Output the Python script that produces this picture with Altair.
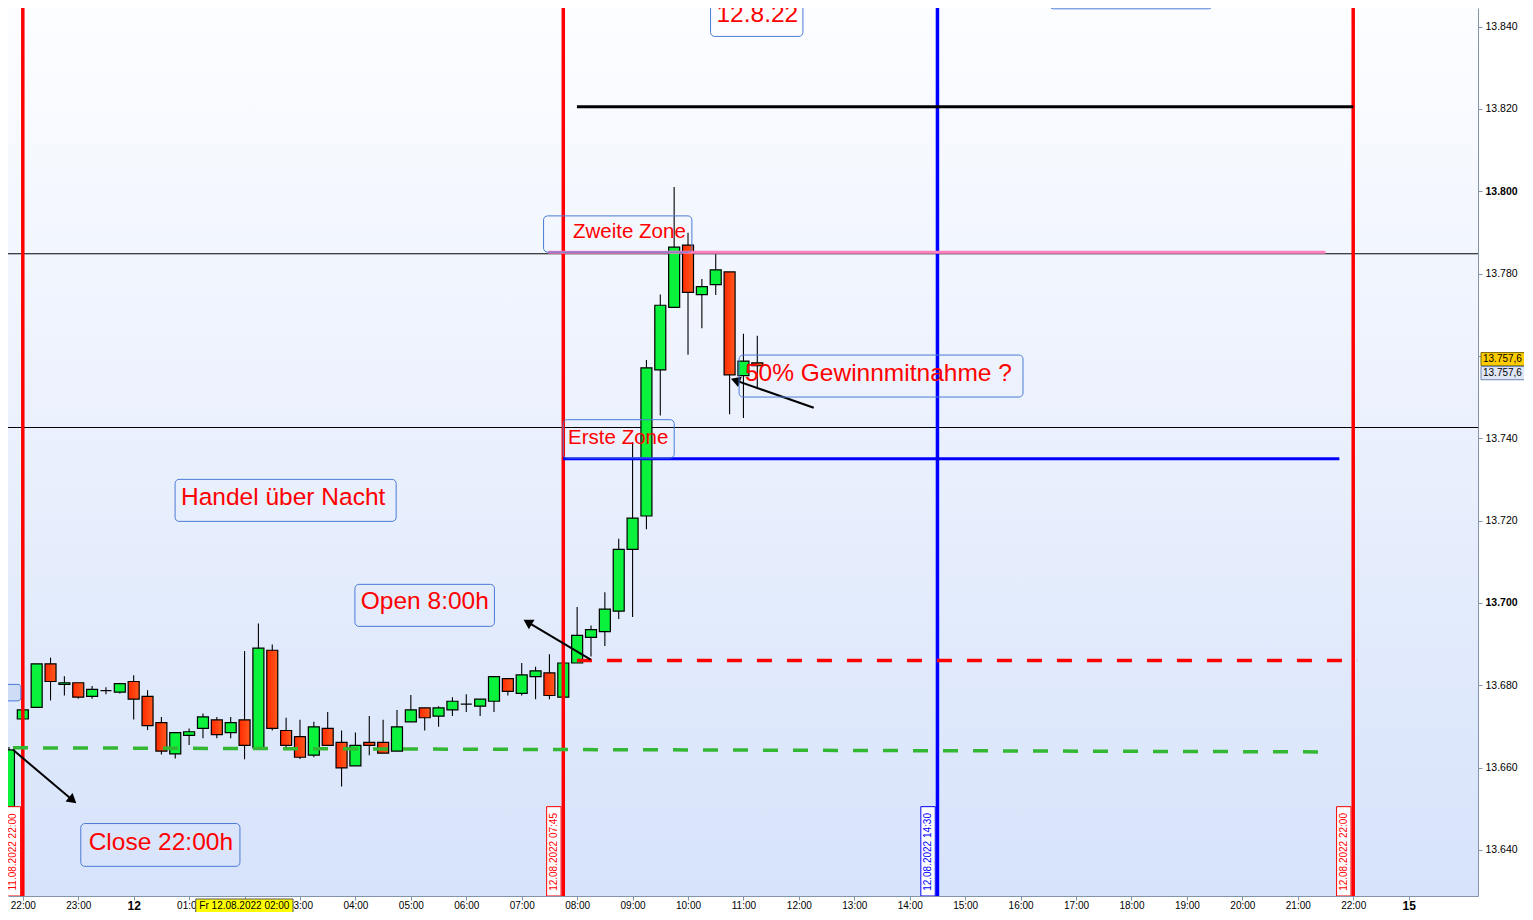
import math
import json
import altair as alt
import pandas as pd

# ---------------- data ----------------
bar_times = ["21:45", "22:00", "22:15", "22:30", "22:45", "23:00", "23:15", "23:30", "23:45",
             "00:00", "00:15", "00:30", "00:45", "01:00", "01:15", "01:30", "01:45",
             "02:00", "02:15", "02:30", "02:45", "03:00", "03:15", "03:30", "03:45",
             "04:00", "04:15", "04:30", "04:45", "05:00", "05:15", "05:30", "05:45",
             "06:00", "06:15", "06:30", "06:45", "07:00", "07:15", "07:30", "07:45",
             "08:00", "08:15", "08:30", "08:45", "09:00", "09:15", "09:30", "09:45",
             "10:00", "10:15", "10:30", "10:45", "11:00", "11:15"]
opens = [13650.5, 13671.8, 13674.6, 13685.2, 13680.2, 13680.6, 13677.3, 13678.7, 13678.3,
         13680.9, 13677.3, 13670.9, 13663.3, 13667.8, 13669.5, 13671.6, 13668.5,
         13671.6, 13664.8, 13688.5, 13669.0, 13667.5, 13663.0, 13669.5, 13666.1,
         13660.4, 13666.1, 13666.1, 13664.0, 13671.1, 13674.5, 13672.5, 13674.0,
         13675.4, 13674.9, 13676.1, 13681.6, 13678.0, 13682.1, 13683.0, 13677.1,
         13685.4, 13691.6, 13693.0, 13698.0, 13713.0, 13721.1, 13756.6, 13771.8,
         13786.9, 13774.9, 13777.3, 13780.4, 13755.2, 13758.3]
highs = [13665.0, 13674.0, 13685.2, 13686.7, 13682.2, 13680.6, 13679.8, 13679.5, 13680.4,
         13682.4, 13678.8, 13672.3, 13668.5, 13669.5, 13673.1, 13672.3, 13672.3,
         13688.3, 13695.0, 13689.9, 13672.1, 13671.6, 13671.1, 13673.5, 13669.0,
         13668.5, 13672.5, 13671.6, 13674.0, 13677.6, 13674.5, 13674.9, 13677.1,
         13677.8, 13676.6, 13682.1, 13681.6, 13685.4, 13684.5, 13687.5, 13687.0,
         13699.0, 13694.5, 13702.6, 13715.6, 13739.0, 13759.0, 13774.9, 13801.0,
         13789.9, 13778.7, 13784.7, 13780.4, 13765.4, 13764.9]
lows = [13645.0, 13671.8, 13674.6, 13676.3, 13677.5, 13676.7, 13676.7, 13677.8, 13678.0,
        13671.7, 13669.1, 13663.2, 13662.2, 13665.5, 13667.1, 13667.1, 13667.1,
        13662.0, 13664.8, 13669.0, 13664.4, 13662.1, 13662.5, 13665.4, 13655.4,
        13660.4, 13663.0, 13663.5, 13664.0, 13671.1, 13669.0, 13669.9, 13672.5,
        13673.5, 13672.5, 13673.5, 13677.5, 13677.5, 13676.6, 13676.6, 13676.6,
        13685.4, 13687.0, 13689.5, 13696.1, 13696.6, 13717.9, 13745.5, 13771.8,
        13760.3, 13766.7, 13774.8, 13745.8, 13744.9, 13752.4]
closes = [13664.3, 13674.0, 13685.2, 13680.9, 13680.6, 13677.1, 13679.0, 13678.7, 13680.4,
          13676.6, 13670.2, 13664.0, 13668.5, 13668.7, 13672.3, 13668.0, 13670.9,
          13665.4, 13689.0, 13669.5, 13665.4, 13662.5, 13669.9, 13665.4, 13659.9,
          13665.4, 13665.4, 13663.5, 13669.9, 13674.0, 13672.1, 13674.5, 13676.1,
          13675.4, 13676.6, 13682.1, 13678.5, 13682.5, 13683.5, 13677.5, 13685.4,
          13692.1, 13693.5, 13698.5, 13713.0, 13720.6, 13757.1, 13772.3, 13786.4,
          13775.4, 13776.8, 13780.9, 13755.4, 13758.7, 13757.6]

x_tick_labels = ["22:00", "23:00", "12", "01:00", "02:00", "03:00", "04:00", "05:00", "06:00",
                 "07:00", "08:00", "09:00", "10:00", "11:00", "12:00", "13:00", "14:00",
                 "15:00", "16:00", "17:00", "18:00", "19:00", "20:00", "21:00", "22:00", "15"]
y_ticks = [13640, 13660, 13680, 13700, 13720, 13740, 13760, 13780, 13800, 13820, 13840]
# the 13.760 label is hidden behind the last-price tags in the reference
y_tick_labels = ["13.640", "13.660", "13.680", "13.700", "13.720", "13.740", "",
                 "13.780", "13.800", "13.820", "13.840"]

vline_stamps = ["11.08.2022 22:00", "12.08.2022 07:45", "12.08.2022 14:30", "12.08.2022 22:00"]
vline_colors = ["#ff0000", "#ff0000", "#0000ff", "#ff0000"]

thin_levels = [13784.8, 13742.6]
last_price = 13757.6
last_price_label = "13.757,6"

# ---------------- layout ----------------
W, H = 1470, 888
X_DOMAIN = [-0.177, 26.161]
Y_DOMAIN = [13628.8, 13844.5]
PX_H = W / (X_DOMAIN[1] - X_DOMAIN[0])
PX_P = H / (Y_DOMAIN[1] - Y_DOMAIN[0])
FONT = "Liberation Sans"
BOX_BLUE = "#4a7bd6"


def hours_of(day, hhmm):
    hh, mm = (int(p) for p in hhmm.split(":"))
    return ((day - 11) * 1440 + hh * 60 + mm - 22 * 60) / 60.0


bar_hours = [hours_of(11 if int(t[:2]) >= 21 else 12, t) for t in bar_times]
bars = pd.DataFrame({"h": bar_hours, "open": opens, "high": highs, "low": lows, "close": closes})
bars["dir"] = ["up" if c > o else ("down" if c < o else "flat") for o, c in zip(opens, closes)]

vl_h = [hours_of(int(s[:2]), s[-5:]) for s in vline_stamps]
vlines = pd.DataFrame({"h": vl_h, "c": vline_colors, "label": vline_stamps,
                       "bx1": [h - 0.30 for h in vl_h], "bx2": [h - 0.04 for h in vl_h],
                       "tx": [h - 0.17 for h in vl_h],
                       "by1": [13650.5] * 4, "by2": [Y_DOMAIN[0]] * 4, "ty": [13639.5] * 4})

xs = alt.Scale(domain=X_DOMAIN, nice=False, zero=False)
ys = alt.Scale(domain=Y_DOMAIN, nice=False, zero=False)

x_axis = alt.Axis(
    values=list(range(len(x_tick_labels))),
    labelExpr=json.dumps(x_tick_labels) + "[round(datum.value)]",
    title=None, grid=False, orient="bottom",
    domainColor="#8393aa", tickColor="#8393aa", tickSize=4, labelPadding=0,
    labelFont=FONT, labelColor="#000000", labelOverlap=False, labelFlush=False,
    labelFontSize={"condition": {"test": "datum.value == 2 || datum.value == 25", "value": 12}, "value": 10},
    labelFontWeight={"condition": {"test": "datum.value == 2 || datum.value == 25", "value": "bold"}, "value": "normal"},
)
y_axis = alt.Axis(
    values=y_ticks,
    labelExpr=json.dumps(y_tick_labels) + "[round((datum.value - 13640) / 20)]",
    title=None, grid=False, orient="right",
    domainColor="#8393aa", tickColor="#8393aa", tickSize=4, labelPadding=3,
    labelFont=FONT, labelColor="#000000", labelFontSize=10.5, labelOverlap=False, labelFlush=False,
    labelFontWeight={"condition": {"test": "datum.value == 13700 || datum.value == 13800", "value": "bold"}, "value": "normal"},
)


def X(f):
    return alt.X(f + ":Q", scale=xs, axis=x_axis)


def Y(f):
    return alt.Y(f + ":Q", scale=ys, axis=y_axis)


one = pd.DataFrame({"k": [0]})

# background gradient
bg = alt.Chart(one).mark_rect(
    fill={"gradient": "linear", "x1": 0, "y1": 0, "x2": 0, "y2": 1,
          "stops": [{"offset": 0, "color": "#fcfdff"}, {"offset": 1, "color": "#d7e3fb"}]}
).encode(x=alt.value(0), x2=alt.value(W), y=alt.value(0), y2=alt.value(H))

thin = alt.Chart(pd.DataFrame({"v": thin_levels})).mark_rule(color="#000000", strokeWidth=1).encode(y=Y("v"))

wicks = alt.Chart(bars).mark_rule(color="#000000", strokeWidth=1.1, clip=True).encode(
    x=X("h"), y=Y("low"), y2=alt.Y2("high"))

body_up = alt.Chart(bars).transform_filter("datum.dir == 'up'").mark_bar(
    size=11, fill="#0af23c", stroke="#000000", strokeWidth=1.2, clip=True
).encode(x=X("h"), y=Y("open"), y2=alt.Y2("close"))
body_down = alt.Chart(bars).transform_filter("datum.dir == 'down'").mark_bar(
    size=11, stroke="#000000", strokeWidth=1.2, clip=True,
    fill={"gradient": "linear", "x1": 0, "y1": 0, "x2": 1, "y2": 0,
          "stops": [{"offset": 0, "color": "#ff2a00"}, {"offset": 1, "color": "#ff5a1e"}]}
).encode(x=X("h"), y=Y("open"), y2=alt.Y2("close"))
body_flat = alt.Chart(bars).transform_filter("datum.dir == 'flat'").mark_bar(
    size=11, fill="#000000", stroke="#000000", strokeWidth=1.2, clip=True
).encode(x=X("h"), y=Y("open"), y2=alt.Y2("close"))

vrules = alt.Chart(vlines).mark_rule(strokeWidth=3.5).encode(
    x=X("h"), color=alt.Color("c:N", scale=None))

levels = pd.DataFrame({
    "x1": [9.996, 9.48, 9.748],
    "x2": [24.0, 23.50, 23.75],
    "v": [13820.5, 13785.2, 13735.0],
    "c": ["#000000", "#ff7fbf", "#0000ff"],
})
level_rules = alt.Chart(levels).mark_rule(strokeWidth=3).encode(
    x=X("x1"), x2=alt.X2("x2"), y=Y("v"), color=alt.Color("c:N", scale=None))

red_dash = alt.Chart(pd.DataFrame({"x1": [9.996], "x2": [24.07], "v": [13686.0]})).mark_rule(
    color="#ff0000", strokeWidth=3.5, strokeDash=[15, 15]).encode(x=X("x1"), x2=alt.X2("x2"), y=Y("v"))
green_dash = alt.Chart(pd.DataFrame({"x1": [-0.177], "x2": [23.43], "v1": [13664.8], "v2": [13663.8]})).mark_rule(
    color="#33b833", strokeWidth=3.5, strokeDash=[15, 15], clip=True
).encode(x=X("x1"), x2=alt.X2("x2"), y=Y("v1"), y2=alt.Y2("v2"))

# arrows
arrow_starts = [(-0.177, 13664.3), (10.245, 13686.2), (14.268, 13747.4)]
arrow_tips = [(0.975, 13651.2), (9.022, 13696.0), (12.762, 13754.5)]
rows = []
for (x1, y1), (x2, y2) in zip(arrow_starts, arrow_tips):
    dx = (x2 - x1) * PX_H
    dy = -(y2 - y1) * PX_P
    L = math.hypot(dx, dy)
    ux, uy = dx / L, dy / L
    back = 5.5
    hx = x2 - back * ux / PX_H
    hy = y2 + back * uy / PX_P
    ang = math.degrees(math.atan2(dx, -dy)) % 360
    rows.append({"x1": x1, "y1": y1, "x2": hx, "y2": hy, "ang": ang})
arrows = pd.DataFrame(rows)
arrow_lines = alt.Chart(arrows).mark_rule(color="#000000", strokeWidth=2, clip=True).encode(
    x=X("x1"), x2=alt.X2("x2"), y=Y("y1"), y2=alt.Y2("y2"))
arrow_heads = alt.Chart(arrows).mark_point(shape="triangle-up", filled=True, size=120, color="#000000",
                                           opacity=1).encode(
    x=X("x2"), y=Y("y2"), angle=alt.Angle("ang:Q", scale=None))

# annotation boxes
boxes = pd.DataFrame({
    "x1": [1.046, 2.747, 5.991, 9.748, 9.394, 12.921, 12.407, 18.52],
    "x2": [3.917, 6.735, 8.508, 11.751, 12.07, 18.043, 14.073, 21.46],
    "y1": [13646.4, 13730.0, 13704.5, 13744.5, 13794.0, 13760.2, 13852.0, 13858.0],
    "y2": [13636.0, 13719.8, 13694.3, 13735.2, 13785.2, 13750.0, 13837.6, 13844.3],
})
box_marks = alt.Chart(boxes).mark_rect(fill="transparent", stroke=BOX_BLUE, strokeWidth=1,
                                       cornerRadius=4, clip=True).encode(
    x=X("x1"), x2=alt.X2("x2"), y=Y("y1"), y2=alt.Y2("y2"))
small_box = alt.Chart(pd.DataFrame({"x1": [-0.354], "x2": [-0.035], "y1": [13680.2], "y2": [13676.2]})).mark_rect(
    fill="#cfdcf6", stroke=BOX_BLUE, strokeWidth=1, cornerRadius=3, clip=True).encode(
    x=X("x1"), x2=alt.X2("x2"), y=Y("y1"), y2=alt.Y2("y2"))

notes = pd.DataFrame({
    "t": ["Close 22:00h", "Handel über Nacht", "Open 8:00h", "Erste Zone", "Zweite Zone",
          "50% Gewinnmitnahme ?", "12.8.22"],
    "x": [1.1875, 2.854, 6.097, 9.837, 9.925, 13.027, 12.513],
    "y": [13641.7, 13725.5, 13700.2, 13740.0, 13790.2, 13755.7, 13842.9],
    "fs": [24.5, 24.5, 24.5, 20.5, 20.5, 24.5, 24.5],
})
note_text = alt.Chart(notes).mark_text(font=FONT, color="#ff0000", align="left", baseline="middle",
                                       clip=True).encode(
    x=X("x"), y=Y("y"), text="t:N", size=alt.Size("fs:Q", scale=None))

# vertical time-stamp labels
vbox = alt.Chart(vlines).mark_rect(fill="#ffffff", strokeWidth=1, clip=True).encode(
    x=X("bx1"), x2=alt.X2("bx2"), y=Y("by1"), y2=alt.Y2("by2"), stroke=alt.Stroke("c:N", scale=None))
vtext = alt.Chart(vlines).mark_text(font=FONT, fontSize=10, angle=270, align="center", baseline="middle",
                                    clip=True).encode(
    x=X("tx"), y=Y("ty"), text="label:N", color=alt.Color("c:N", scale=None))

# last-price tags on the right axis
tags = pd.DataFrame({"y1": [13760.8, 13757.4], "y2": [13757.6, 13754.2],
                     "ym": [13759.2, 13755.8], "f": ["#ffcc00", "#dfe7f6"],
                     "s": ["#7a6a00", "#6f86b0"], "t": [last_price_label, last_price_label]})
tag_box = alt.Chart(tags).mark_rect(strokeWidth=1).encode(
    x=alt.value(W + 3), x2=alt.value(W + 52), y=Y("y1"), y2=alt.Y2("y2"),
    fill=alt.Fill("f:N", scale=None), stroke=alt.Stroke("s:N", scale=None))
tag_text = alt.Chart(tags).mark_text(font=FONT, fontSize=10, align="left", baseline="middle",
                                     color="#000000").encode(
    x=alt.value(W + 5), y=Y("ym"), text="t:N")

# hover date tag on the time axis
hover = pd.DataFrame({"x1": [3.12], "x2": [4.874], "xc": [3.997], "t": ["Fr 12.08.2022 02:00"]})
hover_box = alt.Chart(hover).mark_rect(fill="#ffff00", stroke="#555555", strokeWidth=1).encode(
    x=X("x1"), x2=alt.X2("x2"), y=alt.value(H + 3), y2=alt.value(H + 17))
hover_text = alt.Chart(hover).mark_text(font=FONT, fontSize=10, align="center", baseline="middle",
                                        color="#000000").encode(
    x=X("xc"), y=alt.value(H + 10), text="t:N")

chart = alt.layer(
    bg, thin, wicks, body_up, body_down, body_flat, vrules, level_rules, red_dash, green_dash,
    arrow_lines, arrow_heads, small_box, box_marks, note_text, vbox, vtext, tag_box, tag_text,
    hover_box, hover_text,
).properties(
    width=W, height=H,
    padding={"left": 0, "top": 0, "right": 46, "bottom": 16},
    autosize=alt.AutoSizeParams(type="none"),
).configure_view(stroke=None)

chart.save("out.html", embed_options={"renderer": "svg", "actions": False})
